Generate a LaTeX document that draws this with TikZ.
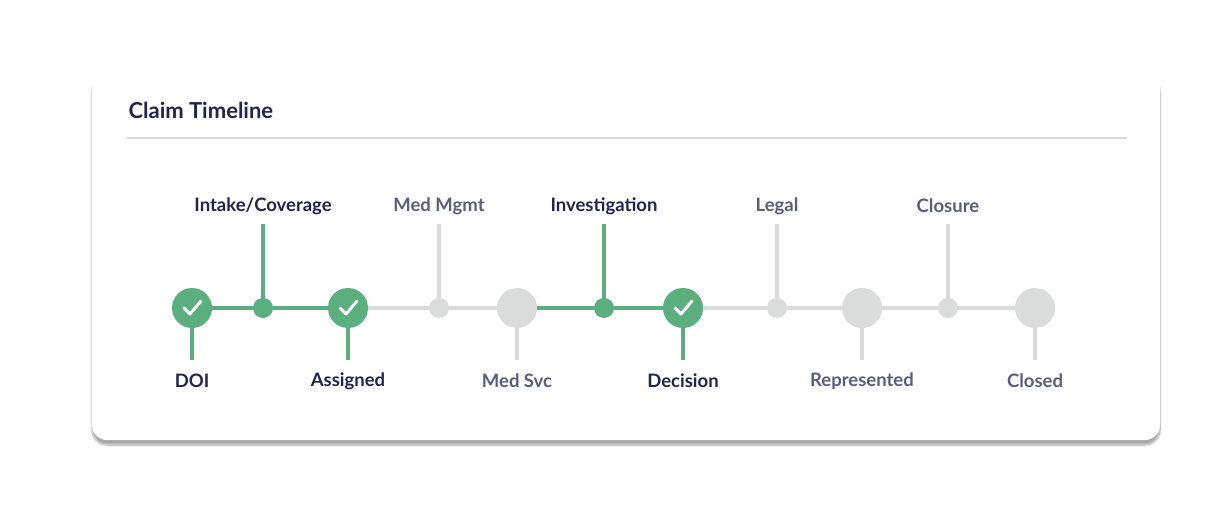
\documentclass[tikz,border=0pt]{standalone}
\usepackage{fontspec}
\setmainfont{Lato}
\usetikzlibrary{positioning,shadows.blur}
\definecolor{done}{HTML}{5BAF7E}
\definecolor{todo}{HTML}{DADBDB}
\definecolor{navy}{HTML}{22234F}
\definecolor{muted}{HTML}{5B5D7E}
\tikzset{
  big/.style={circle,minimum size=40pt,inner sep=0pt},
  small/.style={circle,minimum size=20pt,inner sep=0pt},
  lbl/.style={font=\fontsize{18.5}{20}\selectfont\bfseries},
  seg/.style={line width=4pt}
}
\begin{document}
\begin{tikzpicture}[x=1pt,y=-1pt]
\useasboundingbox (0,0) rectangle (1212,513);
% card
\fill[white,rounded corners=15pt,blur shadow={shadow blur steps=12,shadow xshift=0pt,shadow yshift=-5pt,shadow opacity=35}] (92,72) rectangle (1160,440);
\node[anchor=west,text=navy,font=\fontsize{22}{24}\selectfont\bfseries] (title) at (125,110) {Claim Timeline};
\draw[todo,line width=1.2pt] (127,138) -- (1127,138);
% stops
\foreach \n/\x/\s/\c in {a/192/big/done,b/263/small/done,c/348/big/done,d/439/small/todo,e/517/big/todo,f/604/small/done,g/683/big/done,h/777/small/todo,i/862/big/todo,j/948/small/todo,k/1035/big/todo}
  \coordinate (\n) at (\x,308);
% labels above
\foreach \n/\t/\c in {b/Intake\slash Coverage/navy,d/Med Mgmt/muted,f/Investigation/navy,h/Legal/muted,j/Closure/muted}
  \node[lbl,text=\c] (\n t) at ([yshift=102pt]\n) {\t};
% labels below
\foreach \n/\t/\c in {a/DOI/navy,c/Assigned/navy,e/Med Svc/muted,g/Decision/navy,i/Represented/muted,k/Closed/muted}
  \node[lbl,text=\c] (\n t) at ([yshift=-73pt]\n) {\t};
% stems
\foreach \n/\c in {b/done,d/todo,f/done,h/todo,j/todo}
  \draw[seg,\c] (\n) -- ([yshift=84pt]\n);
\foreach \n/\c in {a/done,c/done,e/todo,g/done,i/todo,k/todo}
  \draw[seg,\c] (\n) -- ([yshift=-52pt]\n);
% track
\foreach \p/\q/\c in {a/b/done,b/c/done,c/d/todo,d/e/todo,e/f/done,f/g/done,g/h/todo,h/i/todo,i/j/todo,j/k/todo}
  \draw[seg,\c] (\p) -- (\q);
\foreach \n/\x/\s/\c in {a/192/big/done,b/263/small/done,c/348/big/done,d/439/small/todo,e/517/big/todo,f/604/small/done,g/683/big/done,h/777/small/todo,i/862/big/todo,j/948/small/todo,k/1035/big/todo}
  \node[\s,fill=\c] (\n c) at (\n) {};
% checks
\foreach \n in {a,c,g}
  \draw[white,line width=3pt,line cap=round,line join=round] ([shift={(-8pt,0pt)}]\n) -- ([shift={(-2pt,-6pt)}]\n) -- ([shift={(9pt,7pt)}]\n);
\end{tikzpicture}
\end{document}
